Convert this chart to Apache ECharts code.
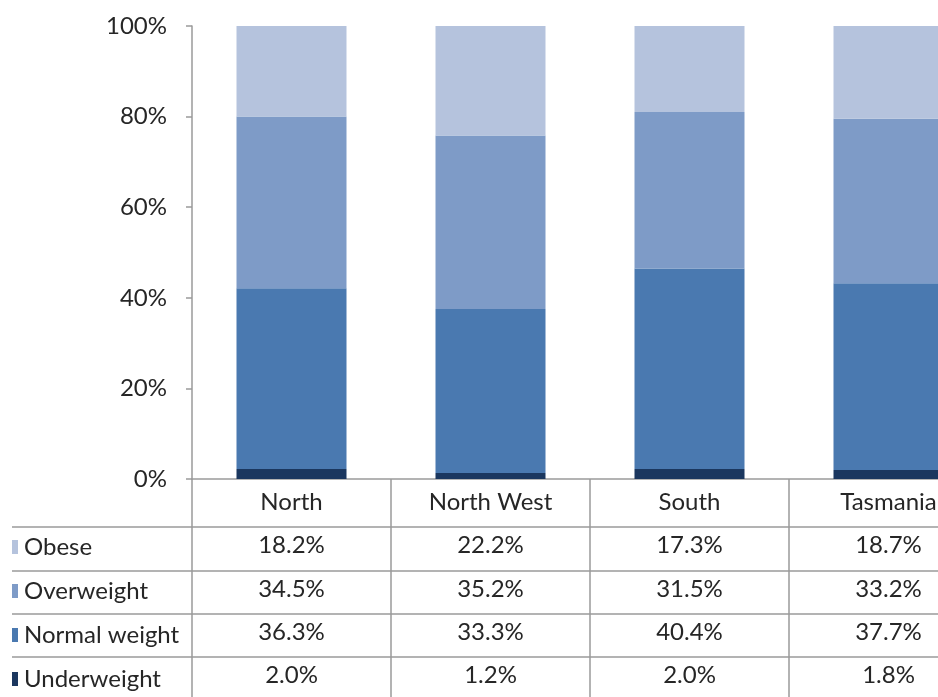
<!DOCTYPE html>
<html>
<head>
<meta charset="utf-8">
<script src="https://cdn.jsdelivr.net/npm/echarts@6/dist/echarts.min.js"></script>
<style>
  html, body { margin: 0; padding: 0; background: #fff; }
  #chart { width: 938px; height: 697px; }
</style>
</head>
<body>
<div id="chart"></div>
<script>
// BMI categories by region, shown as a 100% stacked column with a data table
const categories = ['North', 'North West', 'South', 'Tasmania'];
const obese = [18.2, 22.2, 17.3, 18.7];
const overweight = [34.5, 35.2, 31.5, 33.2];
const normalWeight = [36.3, 33.3, 40.4, 37.7];
const underweight = [2.0, 1.2, 2.0, 1.8];

const colors = {
  Obese: '#B5C3DD',
  Overweight: '#7E9BC7',
  'Normal weight': '#4A79B0',
  Underweight: '#1B375F',
};

// table rows top to bottom; stacking goes bottom to top
const rows = [
  { name: 'Obese', values: obese },
  { name: 'Overweight', values: overweight },
  { name: 'Normal weight', values: normalWeight },
  { name: 'Underweight', values: underweight },
];

const totals = categories.map((_, i) => rows.reduce((s, r) => s + r.values[i], 0));

const FONT = 'Lato';
const FS = 24;
const TXT = '#262626';
const LINE = '#9a9a9a';
const rowCenters = [66, 110, 153, 196]; // label offsets below the x axis line

const chart = echarts.init(document.getElementById('chart'));

const tableAxes = rows.map((r, k) => ({
  type: 'category',
  gridIndex: 0,
  position: 'bottom',
  data: categories,
  axisLine: { show: false },
  axisTick: { show: false },
  axisLabel: {
    interval: 0,
    margin: rowCenters[k],
    verticalAlign: 'middle',
    fontSize: FS,
    fontFamily: FONT,
    color: TXT,
    formatter: (v, i) => r.values[i].toFixed(1) + '%',
  },
}));

const series = rows.slice().reverse().map(r => ({
  name: r.name,
  type: 'bar',
  stack: 'all',
  barWidth: 110,
  xAxisIndex: 0,
  itemStyle: { color: colors[r.name] },
  data: r.values.map((v, i) => v / totals[i] * 100),
}));

const tableLines = [527, 571, 614, 657].map(y => ({
  type: 'line',
  shape: { x1: 12, y1: y, x2: 938, y2: y },
  style: { stroke: LINE, lineWidth: 1.5 },
  silent: true,
}));

chart.setOption({
  animation: false,
  textStyle: { fontFamily: FONT },
  grid: { left: 192, top: 26, width: 796, height: 453, outerBoundsMode: 'none', containLabel: false },
  legend: {
    orient: 'vertical',
    left: 7,
    top: 530,
    height: 200,
    icon: 'rect',
    itemWidth: 6,
    itemHeight: 14,
    itemGap: 20,
    data: rows.map(r => r.name),
    textStyle: { fontSize: FS, color: TXT, fontFamily: FONT, lineHeight: 24, padding: [0, 0, 0, 1] },
  },
  xAxis: [{
    type: 'category',
    data: categories,
    axisLine: { lineStyle: { color: LINE, width: 1.5 } },
    axisTick: { show: true, length: 218, interval: 0, lineStyle: { color: LINE, width: 1.5 } },
    axisLabel: {
      interval: 0,
      margin: 23,
      verticalAlign: 'middle',
      fontSize: FS,
      fontFamily: FONT,
      color: TXT,
    },
  }].concat(tableAxes),
  yAxis: {
    type: 'value',
    min: 0,
    max: 100,
    interval: 20,
    splitLine: { show: false },
    axisLine: { show: true, lineStyle: { color: LINE, width: 1.5 } },
    axisTick: { show: true, length: 6, lineStyle: { color: LINE, width: 1.5 } },
    axisLabel: { formatter: '{value}%', fontSize: FS, fontFamily: FONT, color: TXT, margin: 25 },
  },
  graphic: tableLines,
  series,
});
</script>
</body>
</html>
